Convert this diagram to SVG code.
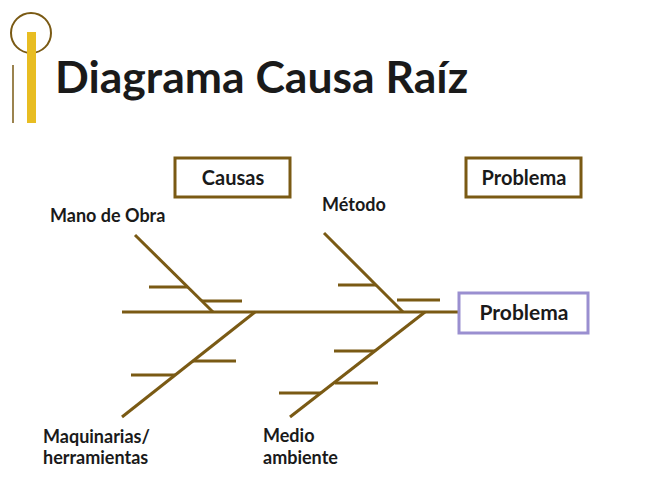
<svg xmlns="http://www.w3.org/2000/svg" width="650" height="494" viewBox="0 0 650 494">
<style>
.bone{stroke:#7a5a14;stroke-width:3;fill:none;stroke-linecap:butt}
.box{fill:#fff;stroke:#7a5a14;stroke-width:3}
.pbox{fill:#fff;stroke:#9a8fd0;stroke-width:3}
.t{font-family:Lato,"Liberation Sans",sans-serif;fill:#1a1a1a}
.lbl{font-size:18px;font-weight:700}
.hdr{font-size:20px;font-weight:700;text-anchor:middle}
.big{font-size:21px}
</style>
<rect width="650" height="494" fill="#fff"/>
<g id="logo">
<circle cx="31" cy="33" r="20" fill="none" stroke="#7a5a14" stroke-width="2"/>
<rect x="27" y="32" width="9" height="91" fill="#e8bd22"/>
<line x1="13" y1="65" x2="13" y2="123" stroke="#7a5a14" stroke-width="1.5"/>
</g>
<text id="title" class="t" x="55" y="93" font-size="44.5" font-weight="700">Diagrama Causa Raíz</text>
<g id="causas"><rect class="box" x="175" y="158" width="115" height="39"/><text class="t hdr" x="233" y="185">Causas</text></g>
<g id="problema-hdr"><rect class="box" x="466" y="158" width="115" height="39"/><text class="t hdr" x="524" y="185">Problema</text></g>
<g id="connectors">
<line class="bone" x1="122" y1="312" x2="459" y2="312"/>
<line class="bone" x1="135" y1="235" x2="213" y2="312"/>
<line class="bone" x1="149" y1="287" x2="188" y2="287"/>
<line class="bone" x1="202" y1="301" x2="242" y2="301"/>
<line class="bone" x1="324" y1="233" x2="403" y2="312"/>
<line class="bone" x1="338" y1="285" x2="376" y2="285"/>
<line class="bone" x1="397" y1="300" x2="440" y2="300"/>
<line class="bone" x1="255" y1="312" x2="122" y2="417"/>
<line class="bone" x1="193" y1="361" x2="236" y2="361"/>
<line class="bone" x1="131" y1="375" x2="175" y2="375"/>
<line class="bone" x1="425" y1="312" x2="290" y2="417"/>
<line class="bone" x1="334" y1="351" x2="375" y2="351"/>
<line class="bone" x1="335" y1="383" x2="378" y2="383"/>
<line class="bone" x1="279" y1="393" x2="321" y2="393"/>
</g>
<g id="problema"><rect class="pbox" x="459" y="293" width="129" height="40"/><text class="t hdr big" x="524" y="320">Problema</text></g>
<g id="mano"><text class="t lbl" x="50" y="221.5">Mano de Obra</text></g>
<g id="metodo"><text class="t lbl" x="322" y="211">Método</text></g>
<g id="maquinarias"><text class="t lbl" x="43" y="443">Maquinarias/</text><text class="t lbl" x="43" y="464">herramientas</text></g>
<g id="medio"><text class="t lbl" x="263" y="442">Medio</text><text class="t lbl" x="263" y="464">ambiente</text></g>
</svg>
